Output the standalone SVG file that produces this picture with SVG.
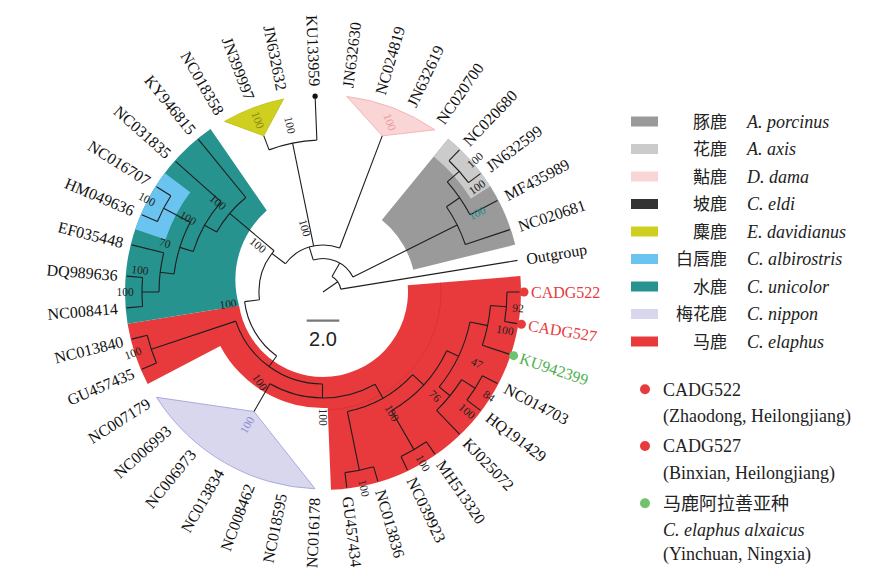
<svg xmlns="http://www.w3.org/2000/svg" width="880" height="579" viewBox="0 0 880 579">
<style>
.br{fill:none;stroke:#1e1e1e;stroke-width:1.1}
.tl{font-family:"Liberation Serif","Times New Roman",serif;font-size:16px;fill:#111;dominant-baseline:central}
.e{text-anchor:end}
.bs{font-family:"Liberation Serif","Times New Roman",serif;font-size:11.5px;fill:#222;text-anchor:middle;dominant-baseline:central}
.cn{font-family:"Noto Sans CJK SC",sans-serif;font-size:17px;fill:#222;text-anchor:end}
.la{font-family:"Liberation Serif","Times New Roman",serif;font-style:italic;font-size:18px;fill:#222}
.l2{font-family:"Liberation Serif","Times New Roman",serif;font-size:18px;fill:#222}
</style>
<rect width="880" height="579" fill="#fff"/>
<g id="clades">
<path id="clade-elaphus" d="M520.36,276.07 A198,198 0 0 1 330.98,489.84 L327.68,407.91 A116,116 0 0 1 220.29,345.91 L147.68,384.01 A198,198 0 0 1 127.56,323.76 L239.10,305.63 A85,85 0 0 0 323,377 A85,85 0 0 0 407.72,285.16 Z" fill="#e83a3c"/>
<path d="M440.62,282.51 A118,118 0 0 1 327.76,409.9" fill="none" stroke="#c52c2e" stroke-width="0.8" opacity="0.6"/>
<path id="clade-unicolor" d="M127.56,323.76 A198,198 0 0 1 210.52,129.05 L266.76,210.52 A92,92 0 0 0 239.10,305.63 Z" fill="#26938f"/>
<path id="clade-albirostris" d="M135.19,229.30 A198,198 0 0 1 164.71,173.05 L190.29,192.28 A166,166 0 0 0 165.54,239.43 Z" fill="#6ac4ef"/>
<path id="clade-porcinus" d="M448.22,138.63 A198,198 0 0 1 515.25,244.62 L413.30,269.74 A93,93 0 0 0 381.82,219.96 Z" fill="#9a9a9a"/>
<path id="clade-axis" d="M448.22,138.63 A198,198 0 0 1 490.34,186.16 L470.90,198.46 A175,175 0 0 0 433.68,156.44 Z" fill="#cbcbcb"/>
<path id="clade-dama" d="M382.22,135.85 L346.75,96.44 A197,197 0 0 1 434.91,129.87 Z" fill="#f9d5d6" stroke="#f2a9aa" stroke-width="0.8"/>
<path id="clade-davidianus" d="M263.78,135.85 L224.5,121.39 A197,197 0 0 1 283.6,98.98 Z" fill="#cfcf1f" stroke="#bcbc18" stroke-width="0.8"/>
<path id="clade-nippon" d="M254,411.51 L315.07,488.84 A197,197 0 0 1 156.5,397.29 Z" fill="#d8d7ee" stroke="#a3a3dc" stroke-width="0.9"/>
</g>
<g id="connectors" class="br">
<path d="M323,292 L337.74,281.68 M332,276.41 A18,18 0 0 1 340.77,289.11 M340.77,289.11 L517.45,260.4 M332,276.41 L339.75,262.99"/>
<path d="M313.21,259.96 A33.5,33.5 0 0 1 352.97,277.03 M352.97,277.03 L457.19,224.98 M446.44,206.78 A150,150 0 0 1 465.28,244.5 M465.28,244.5 L509.86,229.61 M446.44,206.78 L459.61,197.69 M447.25,181.92 A166,166 0 0 1 469.99,214.86 M469.99,214.86 L497.44,200.45 M447.25,181.92 L459.23,171.31 M449.08,160.74 A182,182 0 0 1 468.5,182.66 M449.08,160.74 L459.47,149.92 M468.5,182.66 L480.49,173.65"/>
<path d="M313.21,259.96 L309.26,247.05 M285.46,263.71 A47,47 0 0 1 339.67,248.05 M339.67,248.05 L382.22,135.85 M313.6,245.95 L292.6,143.07 M269.1,149.88 A152,152 0 0 1 316.88,140.12 M269.1,149.88 L263.78,135.85 M316.88,140.12 L315.07,95.16"/>
<path d="M285.46,263.71 L271.89,253.48 M259.48,299.8 A64,64 0 0 1 274.05,250.78 M274.05,250.78 L229.68,213.42 M259.48,299.8 L244.59,301.63 M276.66,355.99 A79,79 0 0 1 244.59,301.63 M276.66,355.99 L269.04,366.51"/>
<path d="M322.53,384 A92,92 0 0 1 235.74,321.13 M235.74,321.13 L151.32,349.32 M156.49,362.95 A181,181 0 0 1 147.26,335.32 M156.49,362.95 L141.77,369.22 M147.26,335.32 L131.72,339.14 M322.53,384 L322.46,398 M375.07,384.33 A106,106 0 0 1 270,383.8 M270,383.8 L254,411.51 M375.07,384.33 L382.93,398.27"/>
<path d="M412.67,374.72 A122,122 0 0 1 347.4,411.53 M347.4,411.53 L359.4,470.32 M373.63,466.81 A182,182 0 0 1 344.94,472.67 M373.63,466.81 L377.81,481.22 M344.94,472.67 L346.75,487.56 M412.67,374.72 L423.7,384.89 M446.78,350.72 A137,137 0 0 1 391.5,410.65 M391.5,410.65 L414,449.62 M426.39,441.78 A182,182 0 0 1 401.02,456.43 M426.39,441.78 L434.91,454.13 M401.02,456.43 L407.45,469.98"/>
<path d="M446.78,350.72 L458.52,356.29 M469.97,322 A150,150 0 0 1 439.19,386.87 M469.97,322 L487.6,325.6 M490.46,305.52 A168,168 0 0 1 482.35,345.2 M482.35,345.2 L509.86,354.39 M490.46,305.52 L506.4,306.8 M507,292 A184,184 0 0 1 504.62,321.52 M507,292 L520,292 M504.62,321.52 L517.45,323.6 M439.19,386.87 L450.04,395.72 M461.6,379.66 A164,164 0 0 1 436.61,410.28 M436.61,410.28 L459.47,434.08 M461.6,379.66 L475.13,388.22 M482.38,375.65 A180,180 0 0 1 466.9,400.14 M482.38,375.65 L497.44,383.55 M466.9,400.14 L480.49,410.35"/>
<path d="M216.73,232.07 A122,122 0 0 1 245.84,197.5 M245.84,197.5 L198.41,139.4 M216.73,232.07 L204.54,225.2 M193.16,251.54 A136,136 0 0 1 221.2,201.82 M221.2,201.82 L175.54,161.37 M193.16,251.54 L179.79,247.37 M174.09,273.93 A150,150 0 0 1 190.18,222.29 M190.18,222.29 L163.62,208.35 M157.41,221.45 A180,180 0 0 1 170.87,195.8 M157.41,221.45 L141.77,214.78 M170.87,195.8 L156.5,186.71 M174.09,273.93 L160.2,272.24 M159,292 A164,164 0 0 1 163.77,252.75 M163.77,252.75 L131.72,244.86 M159,292 L142,292 M142.59,306.55 A181,181 0 0 1 142.59,277.45 M142.59,306.55 L126.64,307.84 M142.59,277.45 L126.64,276.16"/>
</g>
<g id="support-values">
<text class="bs" transform="translate(518,308) rotate(5)">92</text>
<text class="bs" transform="translate(505,330) rotate(10)">100</text>
<text class="bs" transform="translate(477,363) rotate(25)">47</text>
<text class="bs" transform="translate(489,396) rotate(35)">84</text>
<text class="bs" transform="translate(467,411) rotate(40)">100</text>
<text class="bs" transform="translate(435,396) rotate(45)">76</text>
<text class="bs" transform="translate(423,463) rotate(60)">100</text>
<text class="bs" transform="translate(392,413) rotate(60)">100</text>
<text class="bs" transform="translate(364,488) rotate(78)">100</text>
<text class="bs" transform="translate(323,417) rotate(90)">100</text>
<text class="bs" transform="translate(260,382) rotate(55)">100</text>
<text class="bs" transform="translate(228,304) rotate(-7)">100</text>
<text class="bs" transform="translate(133,353) rotate(-20)">100</text>
<text class="bs" transform="translate(125,292)">100</text>
<text class="bs" transform="translate(140,270) rotate(7)">100</text>
<text class="bs" transform="translate(165,243) rotate(17)">70</text>
<text class="bs" transform="translate(147,199) rotate(28)">100</text>
<text class="bs" transform="translate(188,218) rotate(30)">100</text>
<text class="bs" transform="translate(218,202) rotate(40)">100</text>
<text class="bs" transform="translate(258,245) rotate(40)">100</text>
<text class="bs" transform="translate(305,228) rotate(74)">100</text>
<text class="bs" transform="translate(290,125) rotate(78)" fill="#444">100</text>
<text class="bs" transform="translate(258,120) rotate(70)" style="fill:#8a8a12">100</text>
<text class="bs" transform="translate(390,122) rotate(70)" style="fill:#ee9a9b">100</text>
<text class="bs" transform="translate(247,425) rotate(-60)" style="fill:#8c8cd0">100</text>
<text class="bs" transform="translate(475,160) rotate(-42)">100</text>
<text class="bs" transform="translate(477,187) rotate(-35)">100</text>
<text class="bs" transform="translate(477,213) rotate(-27)" style="fill:#1f8a86">100</text>
</g>
<g id="tips">
<g id="tip-CADG522"><circle cx="524" cy="292" r="4.5" fill="#e83a3c"/><text class="tl" transform="translate(531,292)" style="fill:#e83a3c">CADG522</text></g>
<g id="tip-CADG527"><circle cx="521.4" cy="324.24" r="4.5" fill="#e83a3c"/><text class="tl" transform="translate(528.31,325.37) rotate(9.23)" style="fill:#e83a3c">CADG527</text></g>
<g id="tip-KU942399"><circle cx="513.65" cy="355.65" r="4.5" fill="#6cc46c"/><text class="tl" transform="translate(520.29,357.87) rotate(18.46)" style="fill:#4fb04f">KU942399</text></g>
<g id="tip-NC014703"><text class="tl" transform="translate(505.4,387.73) rotate(27.69)">NC014703</text></g>
<g id="tip-HQ191429"><text class="tl" transform="translate(487.69,415.75) rotate(36.92)">HQ191429</text></g>
<g id="tip-KJ025072"><text class="tl" transform="translate(465.7,440.57) rotate(46.15)">KJ025072</text></g>
<g id="tip-MH513320"><text class="tl" transform="translate(440.02,461.53) rotate(55.38)">MH513320</text></g>
<g id="tip-NC039923"><text class="tl" transform="translate(411.31,478.11) rotate(64.62)">NC039923</text></g>
<g id="tip-NC013836"><text class="tl" transform="translate(380.31,489.87) rotate(73.85)">NC013836</text></g>
<g id="tip-GU457434"><text class="tl" transform="translate(347.83,496.5) rotate(83.08)">GU457434</text></g>
<g id="tip-NC016178"><text class="tl e" transform="translate(314.7,497.83) rotate(-87.69)">NC016178</text></g>
<g id="tip-NC018595"><text class="tl e" transform="translate(281.8,493.84) rotate(-78.46)">NC018595</text></g>
<g id="tip-NC008462"><text class="tl e" transform="translate(249.95,484.61) rotate(-69.23)">NC008462</text></g>
<g id="tip-NC013834"><text class="tl e" transform="translate(220,470.4) rotate(-60)">NC013834</text></g>
<g id="tip-NC006973"><text class="tl e" transform="translate(192.72,451.57) rotate(-50.77)">NC006973</text></g>
<g id="tip-NC006993"><text class="tl e" transform="translate(168.81,428.6) rotate(-41.54)">NC006993</text></g>
<g id="tip-NC007179"><text class="tl e" transform="translate(148.89,402.1) rotate(-32.31)">NC007179</text></g>
<g id="tip-GU457435"><text class="tl e" transform="translate(133.49,372.75) rotate(-23.08)">GU457435</text></g>
<g id="tip-NC013840"><text class="tl e" transform="translate(122.99,341.3) rotate(-13.85)">NC013840</text></g>
<g id="tip-NC008414"><text class="tl e" transform="translate(117.67,308.56) rotate(-4.62)">NC008414</text></g>
<g id="tip-DQ989636"><text class="tl e" transform="translate(117.67,275.44) rotate(4.62)">DQ989636</text></g>
<g id="tip-EF035448"><text class="tl e" transform="translate(122.99,242.7) rotate(13.85)">EF035448</text></g>
<g id="tip-HM049636"><text class="tl e" transform="translate(133.49,211.25) rotate(23.08)">HM049636</text></g>
<g id="tip-NC016707"><text class="tl e" transform="translate(148.89,181.9) rotate(32.31)">NC016707</text></g>
<g id="tip-NC031835"><text class="tl e" transform="translate(168.81,155.4) rotate(41.54)">NC031835</text></g>
<g id="tip-KY946815"><text class="tl e" transform="translate(192.72,132.43) rotate(50.77)">KY946815</text></g>
<g id="tip-NC018358"><text class="tl e" transform="translate(220,113.6) rotate(60)">NC018358</text></g>
<g id="tip-JN399997"><text class="tl e" transform="translate(249.95,99.39) rotate(69.23)">JN399997</text></g>
<g id="tip-JN632632"><text class="tl e" transform="translate(281.8,90.16) rotate(78.46)">JN632632</text></g>
<g id="tip-KU133959"><circle cx="315.1" cy="96.2" r="2.6" fill="#111"/><text class="tl e" transform="translate(314.7,86.17) rotate(87.69)">KU133959</text></g>
<g id="tip-JN632630"><text class="tl" transform="translate(347.83,87.5) rotate(-83.08)">JN632630</text></g>
<g id="tip-NC024819"><text class="tl" transform="translate(380.31,94.13) rotate(-73.85)">NC024819</text></g>
<g id="tip-JN632619"><text class="tl" transform="translate(411.31,105.89) rotate(-64.62)">JN632619</text></g>
<g id="tip-NC020700"><text class="tl" transform="translate(440.02,122.47) rotate(-55.38)">NC020700</text></g>
<g id="tip-NC020680"><text class="tl" transform="translate(465.7,143.43) rotate(-46.15)">NC020680</text></g>
<g id="tip-JN632599"><text class="tl" transform="translate(487.69,168.25) rotate(-36.92)">JN632599</text></g>
<g id="tip-MF435989"><text class="tl" transform="translate(505.4,196.27) rotate(-27.69)">MF435989</text></g>
<g id="tip-NC020681"><text class="tl" transform="translate(518.4,226.76) rotate(-18.46)">NC020681</text></g>
<g id="tip-Outgroup"><text class="tl" transform="translate(526.33,258.96) rotate(-9.23)">Outgroup</text></g>
</g>
<g id="scale-bar">
<line x1="306.7" y1="320.7" x2="339.3" y2="320.7" stroke="#777" stroke-width="2.2"/>
<text x="323" y="346" text-anchor="middle" font-family="Liberation Sans, Arial, sans-serif" font-size="20" fill="#222">2.0</text>
</g>
<g id="legend-species">
<rect x="631" y="116.5" width="27" height="10" fill="#9a9a9a"/><text class="cn" x="727" y="127.5">豚鹿</text><text class="la" x="747" y="127.5">A. porcinus</text>
<rect x="631" y="144" width="27" height="10" fill="#cbcbcb"/><text class="cn" x="727" y="155">花鹿</text><text class="la" x="747" y="155">A. axis</text>
<rect x="631" y="171.5" width="27" height="10" fill="#f9d5d6"/><text class="cn" x="727" y="182.5">黇鹿</text><text class="la" x="747" y="182.5">D. dama</text>
<rect x="631" y="199" width="27" height="10" fill="#333"/><text class="cn" x="727" y="210">坡鹿</text><text class="la" x="747" y="210">C. eldi</text>
<rect x="631" y="226.5" width="27" height="10" fill="#cfcf1f"/><text class="cn" x="727" y="237.5">麋鹿</text><text class="la" x="747" y="237.5">E. davidianus</text>
<rect x="631" y="254" width="27" height="10" fill="#6ac4ef"/><text class="cn" x="727" y="265">白唇鹿</text><text class="la" x="747" y="265">C. albirostris</text>
<rect x="631" y="281.5" width="27" height="10" fill="#26938f"/><text class="cn" x="727" y="292.5">水鹿</text><text class="la" x="747" y="292.5">C. unicolor</text>
<rect x="631" y="309" width="27" height="10" fill="#d8d7ee"/><text class="cn" x="727" y="320">梅花鹿</text><text class="la" x="747" y="320">C. nippon</text>
<rect x="631" y="336.5" width="27" height="10" fill="#e83a3c"/><text class="cn" x="727" y="347.5">马鹿</text><text class="la" x="747" y="347.5">C. elaphus</text>
</g>
<g id="legend-samples">
<circle cx="645" cy="389.3" r="5" fill="#e83a3c"/>
<text class="l2" x="663" y="395.5">CADG522</text>
<text class="l2" x="663" y="421.5">(Zhaodong, Heilongjiang)</text>
<circle cx="645" cy="446" r="5" fill="#e83a3c"/>
<text class="l2" x="663" y="452">CADG527</text>
<text class="l2" x="663" y="478.5">(Binxian, Heilongjiang)</text>
<circle cx="645" cy="503.3" r="5" fill="#74c16c"/>
<text x="663" y="510" font-family="Noto Sans CJK SC, sans-serif" font-size="18" fill="#222">马鹿阿拉善亚种</text>
<text class="la" x="663" y="536">C. elaphus alxaicus</text>
<text class="l2" x="663" y="560">(Yinchuan, Ningxia)</text>
</g>
</svg>
